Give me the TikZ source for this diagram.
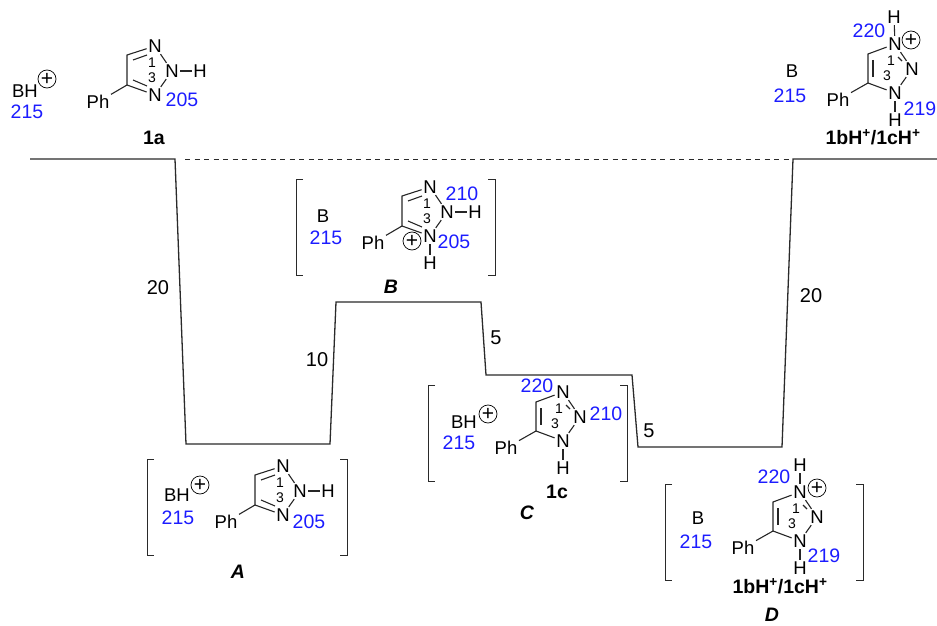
\documentclass[tikz,border=0pt]{standalone}
\usepackage{fontspec}
\setmainfont{Liberation Sans}
\usetikzlibrary{calc}
\definecolor{numblue}{HTML}{1C1CFF}
\definecolor{frameline}{HTML}{2A2A2A}
\tikzset{
  atom/.style={inner sep=1.5pt,font=\fontsize{18.5}{20}\selectfont},
  bond/.style={line width=1.1pt,draw=black!85},
  ringnum/.style={inner sep=0pt,font=\fontsize{14}{15}\selectfont},
  ppm/.style={inner sep=0pt,text=numblue,font=\fontsize{19.5}{21}\selectfont},
  cmpd/.style={inner sep=0pt,font=\fontsize{19.5}{20}\selectfont\bfseries},
  tagname/.style={inner sep=0pt,font=\fontsize{19.5}{20}\selectfont\bfseries\itshape},
  gap/.style={inner sep=0pt,font=\fontsize{20}{20}\selectfont},
  charge/.style={circle,draw,line width=0.7pt,minimum size=18pt,inner sep=0pt,font=\fontsize{21}{21}\selectfont},
  level/.style={line width=1.3pt,draw=frameline},
  brk/.style={line width=1pt,draw=frameline},
  trzA/.pic={
    \node[atom] (-n2) at (0,0) {N};
    \node[atom] (-n1) at (-17,-25) {N};
    \node[atom] (-n3) at (-17,24) {N};
    \node[atom] (-ph) at (-74,31) {Ph};
    \coordinate (-ct) at (-45,-16);
    \coordinate (-cb) at (-45,14);
    \draw[bond] (-n1) -- (-ct) -- (-cb) -- (-n3);
    \draw[bond] (-39,-11) -- (-25,-16);
    \draw[bond] (-39,9) -- (-25,15);
    \draw[bond] (-n1) -- (-n2);
    \draw[bond] (-n3) -- (-n2);
    \draw[bond] (-cb) -- (-ph);
    \node[ringnum] (-one) at (-20,-8) {1};
    \node[ringnum] (-three) at (-20,7) {3};
  },
  trzC/.pic={
    \node[atom] (-n2) at (0,0) {N};
    \node[atom] (-n1) at (-17,-25) {N};
    \node[atom] (-n3) at (-17,24) {N};
    \node[atom] (-hb) at (-17,51) {H};
    \node[atom] (-ph) at (-74,31) {Ph};
    \coordinate (-ct) at (-44,-15);
    \coordinate (-cb) at (-44,14);
    \draw[bond] (-n1) -- (-ct) -- (-cb) -- (-n3);
    \draw[bond] (-39,-9) -- (-39,8);
    \draw[bond] (-n1) -- (-n2);
    \draw[bond] (-14,-12) -- (-10,-8);
    \draw[bond] (-n3) -- (-n2);
    \draw[bond] (-n3) -- (-hb);
    \draw[bond] (-cb) -- (-ph);
    \node[ringnum] (-one) at (-21,-8) {1};
    \node[ringnum] (-three) at (-25,7) {3};
  }
}
\begin{document}
\begin{tikzpicture}[x=1pt,y=-1pt]
\useasboundingbox (0,0) rectangle (937,626);
\coordinate (p0) at (30,159);
\coordinate (p1) at (175,159);
\coordinate (p2) at (186,444);
\coordinate (p3) at (330,444);
\coordinate (p4) at (336,302);
\coordinate (p5) at (481,302);
\coordinate (p6) at (486,375);
\coordinate (p7) at (632,375);
\coordinate (p8) at (638,447);
\coordinate (p9) at (782,447);
\coordinate (p10) at (793,159);
\coordinate (p11) at (937,159);
\draw[level] (p0) -- (p1) -- (p2) -- (p3) -- (p4) -- (p5) -- (p6) -- (p7) -- (p8) -- (p9) -- (p10) -- (p11);
\draw[level,line width=1pt,dash pattern=on 5pt off 4.5pt] (p1) ++(10,0) -- (p10);
\node[gap] (g20a) at (158,288) {20};
\node[gap] (g10) at (317,360) {10};
\node[gap] (g5a) at (496,338) {5};
\node[gap] (g5b) at (649,431) {5};
\node[gap] (g20b) at (811,296) {20};

\foreach \xl/\xr/\yt/\yb in {147/347/459/555,296/495/179/275,428/627/385/481,665/863/484/580}{
  \draw[brk] (\xl+7,\yt) -- (\xl,\yt) -- (\xl,\yb) -- (\xl+7,\yb);
  \draw[brk] (\xr-7,\yt) -- (\xr,\yt) -- (\xr,\yb) -- (\xr-7,\yb);
}

\pic (ma) at (172,71) {trzA};
\node[atom] (ma-h) at (200,71) {H};
\draw[bond] (ma-n2) -- (ma-h);
\node[atom] (ba) at (25,91) {BH};
\node[charge] (ca) at (47,79) {+};
\node[ppm] (sa1) at (27,112) {215};
\node[ppm] (sa2) at (182,100) {205};
\node[cmpd] (na) at (154,138) {1a};

\pic (mt) at (912,69) {trzC};
\node[atom] (mt-ht) at (894,17) {H};
\draw[bond] (mt-n1) -- (mt-ht);
\node[charge] (ct) at (911,40) {+};
\node[atom] (bt) at (792,71) {B};
\node[ppm] (st1) at (790,96) {215};
\node[ppm] (st2) at (869,31) {220};
\node[ppm] (st3) at (920,109) {219};
\node[cmpd] (nt) at (873,137) {1bH\textsuperscript{+}/1cH\textsuperscript{+}};

\pic (mb) at (447,212) {trzA};
\node[atom] (mb-h) at (475,212) {H};
\node[atom] (mb-hb) at (430,263) {H};
\draw[bond] (mb-n2) -- (mb-h);
\draw[bond] (mb-n3) -- (mb-hb);
\node[charge] (cb) at (412,241) {+};
\node[atom] (bb) at (323,216) {B};
\node[ppm] (sb1) at (326,238) {215};
\node[ppm] (sb2) at (462,194) {210};
\node[ppm] (sb3) at (454,242) {205};
\node[tagname] (nb) at (391,287) {B};

\pic (mc) at (580,417) {trzC};
\node[atom] (bc) at (464,422) {BH};
\node[charge] (cc) at (488,414) {+};
\node[ppm] (sc1) at (459,443) {215};
\node[ppm] (sc2) at (537,386) {220};
\node[ppm] (sc3) at (606,414) {210};
\node[cmpd] (nc) at (557,492) {1c};
\node[tagname] (tc) at (527,513) {C};

\pic (md) at (300,491) {trzA};
\node[atom] (md-h) at (328,491) {H};
\draw[bond] (md-n2) -- (md-h);
\node[atom] (bd) at (177,495) {BH};
\node[charge] (cd) at (200,485) {+};
\node[ppm] (sd1) at (178,518) {215};
\node[ppm] (sd2) at (309,522) {205};
\node[tagname] (td) at (238,572) {A};

\pic (me) at (817,517) {trzC};
\node[atom] (me-ht) at (800,465) {H};
\draw[bond] (me-n1) -- (me-ht);
\node[charge] (ce) at (817,488) {+};
\node[atom] (be) at (698,518) {B};
\node[ppm] (se1) at (696,542) {215};
\node[ppm] (se2) at (774,477) {220};
\node[ppm] (se3) at (824,556) {219};
\node[cmpd] (ne) at (780,586) {1bH\textsuperscript{+}/1cH\textsuperscript{+}};
\node[tagname] (te) at (772,615) {D};
\end{tikzpicture}
\end{document}
